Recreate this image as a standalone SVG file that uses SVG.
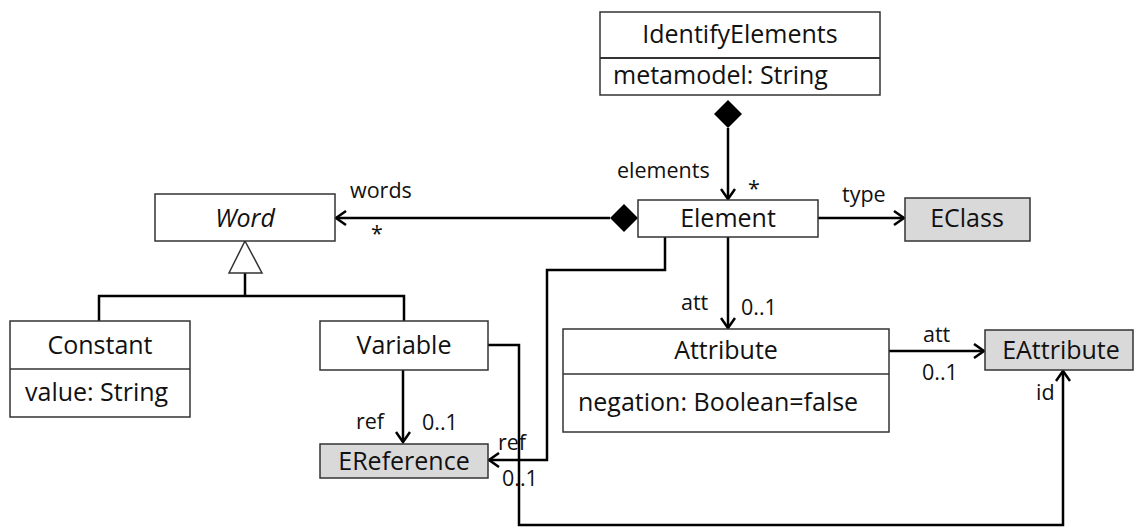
<svg xmlns="http://www.w3.org/2000/svg" width="1135" height="527" viewBox="0 0 1135 527">
<defs>
<style>
.box{fill:#fff;stroke:#333;stroke-width:1.5}
.ext{fill:#d9d9d9;stroke:#333;stroke-width:1.5}
.t{font-family:"Open Sans","Liberation Sans",sans-serif;font-size:25px;fill:#111}
.l{font-family:"Open Sans","Liberation Sans",sans-serif;font-size:21.5px;fill:#111}
.c{stroke:#000;stroke-width:2.5;fill:none}
</style>
<marker id="open" markerWidth="16" markerHeight="16" refX="12" refY="8" orient="auto" markerUnits="userSpaceOnUse">
<path d="M2,1 L12,8 L2,15" fill="none" stroke="#000" stroke-width="2.5"/>
</marker>
</defs>
<rect width="1135" height="527" fill="#fff"/>
<g id="connectors">
<path class="c" d="M728,128 L728,199" marker-end="url(#open)"/>
<path d="M728,100 L742,114 L728,128 L714,114 Z" fill="#000"/>
<path class="c" d="M610,218 L336,218" marker-end="url(#open)"/>
<path d="M638,218 L624,204 L610,218 L624,232 Z" fill="#000"/>
<path class="c" d="M818,218 L904,218" marker-end="url(#open)"/>
<path class="c" d="M728,237 L728,328" marker-end="url(#open)"/>
<path class="c" d="M665,237 L665,270 L547,270 L547,460 L489,460" marker-end="url(#open)"/>
<path class="c" d="M403,370 L403,442" marker-end="url(#open)"/>
<path class="c" d="M889,351 L984,351" marker-end="url(#open)"/>
<path class="c" d="M488,345 L519,345 L519,525 L1063,525 L1063,371" marker-end="url(#open)"/>
<path class="c" d="M245,273 L245,296 M99,321 L99,296 L404,296 L404,321"/>
<path d="M245,241 L262,273 L229,273 Z" fill="#fff" stroke="#333" stroke-width="1.5"/>
<text class="l" x="617" y="178">elements</text>
<text class="l" x="748" y="196">*</text>
<text class="l" x="350" y="198">words</text>
<text class="l" x="371" y="241">*</text>
<text class="l" x="842" y="202">type</text>
<text class="l" x="681" y="310">att</text>
<text class="l" x="741" y="315">0..1</text>
<text class="l" x="356" y="429">ref</text>
<text class="l" x="422" y="430">0..1</text>
<text class="l" x="498" y="450">ref</text>
<text class="l" x="502" y="486">0..1</text>
<text class="l" x="923" y="342">att</text>
<text class="l" x="922" y="380">0..1</text>
<text class="l" x="1036" y="400">id</text>
</g>
<g id="IdentifyElements">
<rect class="box" x="600" y="12" width="280" height="83"/>
<line x1="600" y1="58" x2="880" y2="58" stroke="#333" stroke-width="2"/>
<text class="t" x="740" y="43" text-anchor="middle">IdentifyElements</text>
<text class="t" x="613" y="84">metamodel: String</text>
</g>
<g id="Element">
<rect class="box" x="638" y="200" width="180" height="37"/>
<text class="t" x="728" y="227" text-anchor="middle">Element</text>
</g>
<g id="Word">
<rect class="box" x="155" y="194" width="180" height="47"/>
<text class="t" x="245" y="227" text-anchor="middle" font-style="italic">Word</text>
</g>
<g id="EClass">
<rect class="ext" x="905" y="198" width="125" height="43"/>
<text class="t" x="967" y="227" text-anchor="middle">EClass</text>
</g>
<g id="Constant">
<rect class="box" x="10" y="321" width="180" height="96"/>
<line x1="10" y1="369" x2="190" y2="369" stroke="#333" stroke-width="1.5"/>
<text class="t" x="100" y="354" text-anchor="middle">Constant</text>
<text class="t" x="25" y="401">value: String</text>
</g>
<g id="Variable">
<rect class="box" x="320" y="321" width="168" height="49"/>
<text class="t" x="404" y="354" text-anchor="middle">Variable</text>
</g>
<g id="EReference">
<rect class="ext" x="320" y="444" width="168" height="34"/>
<text class="t" x="404" y="470" text-anchor="middle">EReference</text>
</g>
<g id="Attribute">
<rect class="box" x="563" y="329" width="326" height="103"/>
<line x1="563" y1="374" x2="889" y2="374" stroke="#333" stroke-width="1.5"/>
<text class="t" x="726" y="359" text-anchor="middle">Attribute</text>
<text class="t" x="578" y="411">negation: Boolean=false</text>
</g>
<g id="EAttribute">
<rect class="ext" x="985" y="330" width="148" height="40"/>
<text class="t" x="1061" y="359" text-anchor="middle">EAttribute</text>
</g>
</svg>
